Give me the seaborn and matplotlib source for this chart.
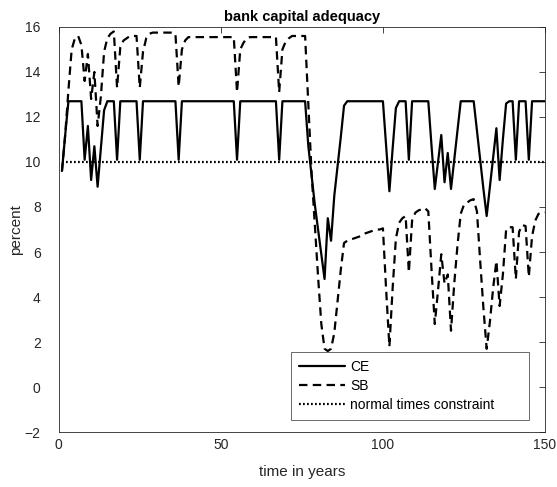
import matplotlib
matplotlib.use("Agg")
import matplotlib.pyplot as plt
import pandas as pd
import seaborn as sns

# ── Data ──────────────────────────────────────────────────────────────────────
years = list(range(1, 151))

ce = [
    9.6, 11.2, 12.7, 12.7, 12.7, 12.7, 12.7, 10.1, 11.6, 9.2,
    10.7, 8.9, 10.6, 12.3, 12.7, 12.7, 12.7, 10.1, 12.7, 12.7,
    12.7, 12.7, 12.7, 12.7, 10.1, 12.7, 12.7, 12.7, 12.7, 12.7,
    12.7, 12.7, 12.7, 12.7, 12.7, 12.7, 10.1, 12.7, 12.7, 12.7,
    12.7, 12.7, 12.7, 12.7, 12.7, 12.7, 12.7, 12.7, 12.7, 12.7,
    12.7, 12.7, 12.7, 12.7, 10.1, 12.7, 12.7, 12.7, 12.7, 12.7,
    12.7, 12.7, 12.7, 12.7, 12.7, 12.7, 12.7, 10.1, 12.7, 12.7,
    12.7, 12.7, 12.7, 12.7, 12.7, 12.7, 10.7, 9.4, 8.1, 7.0,
    5.9, 4.8, 7.5, 6.5, 8.5, 9.8, 11.1, 12.5, 12.7, 12.7,
    12.7, 12.7, 12.7, 12.7, 12.7, 12.7, 12.7, 12.7, 12.7, 12.7,
    10.7, 8.7, 10.6, 12.4, 12.7, 12.7, 12.7, 10.1, 12.7, 12.7,
    12.7, 12.7, 12.7, 12.7, 10.7, 8.8, 10.0, 11.2, 9.1, 10.4,
    8.8, 10.1, 11.4, 12.7, 12.7, 12.7, 12.7, 12.7, 11.4, 10.1,
    8.8, 7.6, 8.9, 10.2, 11.5, 9.2, 11.0, 12.6, 12.7, 12.7,
    10.1, 12.7, 12.7, 12.7, 10.1, 12.7, 12.7, 12.7, 12.7, 12.7,
]

sb = [
    9.6, 11.2, 13.2, 15.0, 15.5, 15.6, 15.2, 13.6, 14.8, 12.8,
    14.0, 11.6, 12.9, 14.9, 15.5, 15.7, 15.8, 13.3, 15.1, 15.4,
    15.5, 15.6, 15.6, 15.6, 13.3, 14.9, 15.5, 15.7, 15.75, 15.75,
    15.75, 15.75, 15.75, 15.75, 15.75, 15.7, 13.35, 15.0, 15.4, 15.55,
    15.55, 15.55, 15.55, 15.55, 15.55, 15.55, 15.55, 15.55, 15.55, 15.55,
    15.55, 15.55, 15.55, 15.55, 13.1, 15.0, 15.3, 15.5, 15.55, 15.55,
    15.55, 15.55, 15.55, 15.55, 15.55, 15.55, 15.55, 13.1, 15.0, 15.35,
    15.5, 15.6, 15.6, 15.6, 15.6, 15.6, 12.5, 9.5, 7.2, 4.9,
    2.8, 1.7, 1.6, 1.7, 2.4, 3.8, 5.2, 6.4, 6.5, 6.55,
    6.6, 6.65, 6.7, 6.8, 6.85, 6.9, 6.95, 7.0, 7.0, 7.05,
    4.3, 1.8, 4.4, 6.6, 7.3, 7.5, 7.6, 5.1, 7.4, 7.75,
    7.85, 7.9, 7.95, 7.8, 5.2, 2.8, 4.3, 5.9, 4.6, 5.0,
    2.5, 4.6, 6.3, 7.7, 8.1, 8.2, 8.3, 8.35, 7.8, 5.6,
    3.5, 1.7, 2.9, 4.4, 5.6, 3.6, 5.0, 7.0, 7.1, 7.1,
    4.8, 6.9, 7.2, 7.15, 4.9, 6.7, 7.4, 7.7, 7.7, 7.75,
]

normal_level = 10

x_ticks = [0, 50, 100, 150]
y_ticks = [-2, 0, 2, 4, 6, 8, 10, 12, 14, 16]

# ── Style ──────────────────────────────────────────────────────────────────────
sns.set_style("white")
plt.rcParams["font.family"] = ["Liberation Sans", "DejaVu Sans"]
AX_COLOR = "#262626"

df = pd.DataFrame({
    "year": years,
    "CE": ce,
    "SB": sb,
    "normal": [normal_level] * len(years),
})

fig = plt.figure(figsize=(5.57, 4.87), dpi=100)
ax = fig.add_axes([0.1054, 0.1129, 0.8731, 0.8317])

sns.lineplot(data=df, x="year", y="CE", ax=ax, color="black", lw=1.6,
             label="CE")
sns.lineplot(data=df, x="year", y="SB", ax=ax, color="black", lw=1.6,
             dashes=(3.8, 2.4), label="SB")
sns.lineplot(data=df, x="year", y="normal", ax=ax, color="black", lw=1.6,
             dashes=(0.8, 1.0), label="normal times constraint")

ax.set_xlim(0, 150)
ax.set_ylim(-2, 16)
ax.set_xticks(x_ticks)
ax.set_yticks(y_ticks)
ax.tick_params(direction="in", length=4, width=0.6, colors=AX_COLOR,
               labelsize=10, top=True, right=True, labelcolor=AX_COLOR)
ax.tick_params(axis="y", pad=13)
ax.tick_params(axis="x", pad=4)
for sp in ax.spines.values():
    sp.set_visible(True)
    sp.set_color(AX_COLOR)
    sp.set_linewidth(0.6)

ax.set_title("bank capital adequacy", fontsize=10.5, fontweight="bold",
             color="black", pad=4)
ax.set_xlabel("time in years", fontsize=11, color=AX_COLOR, labelpad=10)
ax.set_ylabel("percent", fontsize=11, color=AX_COLOR, labelpad=1)

leg = ax.legend(loc="lower left", bbox_to_anchor=(0.478, 0.03, 0.489, 0.17),
                mode="expand", fontsize=10, frameon=True, fancybox=False,
                handlelength=3.3, borderpad=0.55, labelspacing=0.37,
                handletextpad=0.4, borderaxespad=0)
leg.get_frame().set_edgecolor(AX_COLOR)
leg.get_frame().set_linewidth(0.6)
for t in leg.get_texts():
    t.set_color("black")

fig.savefig("out.png", dpi=100)
